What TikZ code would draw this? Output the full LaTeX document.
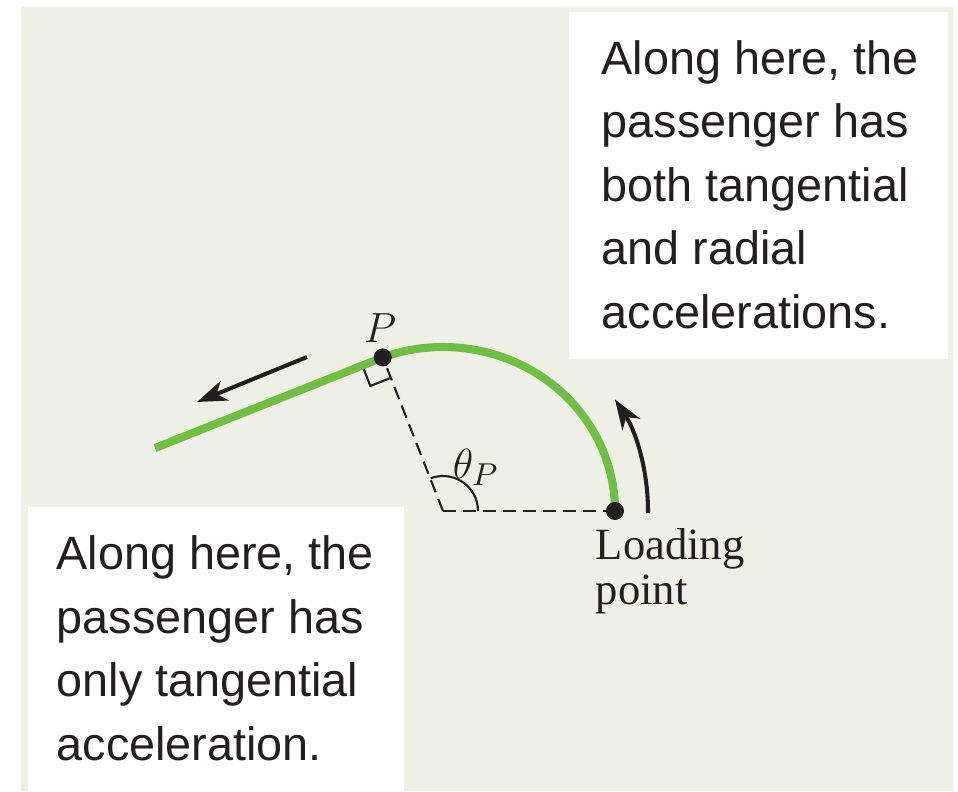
\documentclass[tikz,border=0pt]{standalone}
\usepackage{fontspec}
\setmainfont{Liberation Serif}
\newfontfamily\notefont{Liberation Sans}
\usetikzlibrary{arrows.meta,calc}
\definecolor{paper}{RGB}{239,240,229}
\definecolor{trackgreen}{RGB}{112,190,68}
\definecolor{inkblack}{RGB}{35,31,32}

\begin{document}
\begin{tikzpicture}[x=0.01cm, y=0.01cm,
    track/.style={trackgreen, line width=2.3pt},
    radial/.style={inkblack, line width=0.6pt, dash pattern=on 3.7pt off 2pt},
    motion/.style={inkblack, line width=1.15pt, -{Stealth[length=8.5pt,width=6pt,inset=2.5pt]}},
    dot/.style={circle, fill=inkblack, inner sep=0pt, minimum size=0.18cm},
    note/.style={inkblack, anchor=north west, inner sep=0pt, align=left,
      font=\notefont\fontsize{13.3}{18.07}\selectfont}]
  \useasboundingbox (0,0) rectangle (958,-791);
  \fill[paper] (21,-7) rectangle (953,-791);
  \fill[white] (569,-12) rectangle (948,-359);
  \fill[white] (28,-507) rectangle (404,-791);

  \coordinate (O) at (443,-511);
  \coordinate (L) at ($(O)+(172,0)$);
  \coordinate (P) at ($(O)+(110.5:172 and 164)$);
  \coordinate (tanend) at (155,-448);
  \coordinate (slidetail) at (307,-357);
  \coordinate (slidetip) at (197,-402);

  \draw[radial] (O) -- (L);
  \draw[radial] (O) -- (P);
  \draw[inkblack, line width=0.6pt] ([shift={(0:35)}]O) arc[start angle=0, end angle=110.5, radius=35];
  \draw[inkblack, line width=0.6pt, shift={(P)}, rotate=-68.6] (22,0) -- (22,-22) -- (0,-22);

  \draw[track] (L) arc[start angle=0, end angle=110.5, x radius=172, y radius=164] -- (tanend);
  \draw[motion] (slidetail) -- (slidetip);
  \draw[motion] ([shift={(-0.5:205)}]O) arc[start angle=-0.5, end angle=33, radius=205];

  \node[dot] (Pdot) at (P) {};
  \node[dot] (Ldot) at (L) {};
  \node[inkblack, font=\fontsize{12}{14}\selectfont] (Plabel) at (380,-328) {$P$};
  \node[inkblack, font=\fontsize{12.5}{14}\selectfont] (anglelabel) at (476,-467) {$\theta_P$};
  \node[inkblack, anchor=north west, inner sep=0pt, align=left,
    font=\fontsize{12.7}{12.8}\selectfont] (loadlabel) at (595,-528) {Loading\\point};

  \node[note] (radialnote) at (601,-39.5) {Along here, the\\passenger has\\both tangential\\and radial\\accelerations.};
  \node[note] (tangentnote) at (56,-535) {Along here, the\\passenger has\\only tangential\\acceleration.};
\end{tikzpicture}
\end{document}
